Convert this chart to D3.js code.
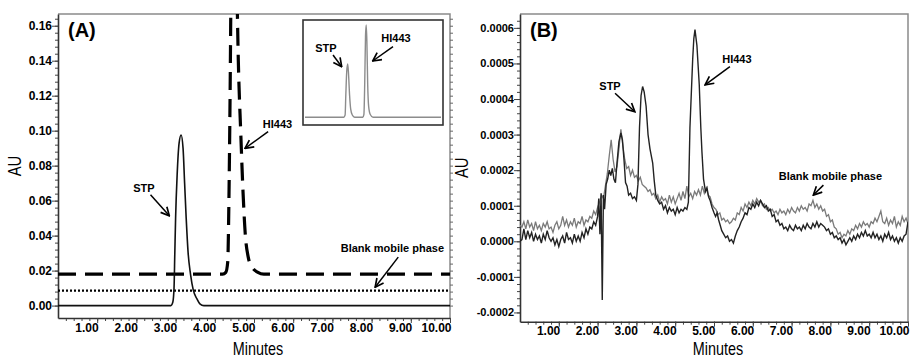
<!DOCTYPE html>
<html>
<head>
<meta charset="utf-8">
<script src="https://cdn.jsdelivr.net/npm/d3@7"></script>
<style>
  body { margin: 0; background: #fff; }
  svg { display: block; }
  text { font-family: 'Liberation Sans', Arial, sans-serif; }
  .lbl { font-weight: bold; }
</style>
</head>
<body>
<svg></svg>
<script>
// tick values
const xTicks = [1, 2, 3, 4, 5, 6, 7, 8, 9, 10];
const yTicksA = [0, 0.02, 0.04, 0.06, 0.08, 0.10, 0.12, 0.14, 0.16];
const yTicksB = [-2, -1, 0, 1, 2, 3, 4, 5, 6]; // AU x 1e-4

// panel A traces [minutes, AU]
const stpA = [[0,0],[2.88,0],[2.93,0.002],[2.96,0.01],[2.98,0.03],[3.0,0.05],[3.04,0.075],[3.09,0.093],[3.14,0.0975],
  [3.19,0.09],[3.23,0.07],[3.27,0.05],[3.32,0.03],[3.38,0.018],[3.45,0.009],[3.54,0.004],[3.62,0.001],[3.72,0],[10,0]];
const hi443A = [[0,0.018],[4.2,0.018],[4.28,0.019],[4.33,0.025],[4.36,0.06],[4.39,0.12],[4.42,0.2],[4.48,0.28],
  [4.55,0.2],[4.6,0.14],[4.66,0.1],[4.72,0.065],[4.78,0.04],[4.85,0.028],[4.95,0.022],[5.1,0.019],[5.25,0.018],[10,0.018]];
const blankA = [[0,0.0085],[10,0.0085]];

// inset (both peaks, no offset)
const insetTrace = [[0,0],[2.85,0],[2.95,0.004],[3.0,0.04],[3.07,0.085],[3.14,0.098],[3.2,0.08],[3.28,0.04],[3.36,0.015],
  [3.48,0.004],[3.65,0],[4.25,0],[4.33,0.005],[4.39,0.06],[4.45,0.15],[4.5,0.17],[4.55,0.14],[4.61,0.06],[4.68,0.02],
  [4.8,0.005],[5.0,0],[10,0]];

// panel B traces [minutes, AU x 1e-4]
const sampleB = [[0,0],[0.05,0.05],[0.1,0.35],[0.15,0.05],[0.2,0.3],[0.25,0.1],[0.3,0.25],[0.35,0],[0.4,0.2],[0.45,0.05],
  [0.5,0.15],[0.55,-0.05],[0.6,0.2],[0.65,0.05],[0.7,0.3],[0.75,0.1],[0.8,0],[0.85,0.1],[0.9,-0.1],[0.95,0.05],
  [1.0,-0.15],[1.05,0.05],[1.1,0.15],[1.15,-0.05],[1.2,0.25],[1.25,0.05],[1.3,0.1],[1.35,-0.05],[1.4,0.2],[1.45,0],
  [1.5,0.15],[1.55,0],[1.6,0.25],[1.65,0.1],[1.7,0.35],[1.75,0.2],[1.8,0.4],[1.85,0.35],[1.9,0.55],[1.95,0.45],
  [2.0,0.7],[2.03,1.2],[2.06,0.2],[2.09,1.35],[2.12,-1.65],[2.15,1.3],[2.18,0.9],[2.22,1.6],[2.26,1.75],[2.3,2.0],
  [2.34,1.85],[2.38,2.05],[2.42,1.75],[2.46,1.65],[2.5,2.2],[2.55,2.8],[2.6,3.05],[2.64,2.85],[2.68,2.3],[2.72,1.65],
  [2.76,1.55],[2.8,1.3],[2.85,1.35],[2.9,1.2],[2.95,1.25],[3.0,1.15],[3.04,1.6],[3.08,3.2],[3.12,4.1],[3.16,4.35],
  [3.2,4.2],[3.25,3.8],[3.3,3.0],[3.35,2.6],[3.42,2.2],[3.46,1.7],[3.5,1.3],[3.55,1.15],[3.6,1.05],[3.65,1.1],
  [3.7,0.9],[3.75,1.0],[3.8,0.8],[3.85,0.95],[3.9,0.85],[3.95,0.9],[4.0,0.75],[4.05,0.95],[4.1,0.8],[4.15,0.9],
  [4.2,0.85],[4.25,0.95],[4.3,0.9],[4.34,1.1],[4.38,3.2],[4.45,5.1],[4.48,5.7],[4.51,5.95],[4.56,5.5],[4.62,4.4],
  [4.66,3.2],[4.69,2.5],[4.73,1.75],[4.78,1.4],[4.82,1.5],[4.86,1.25],[4.9,1.15],[4.95,0.95],[5.0,0.8],[5.04,0.7],
  [5.08,0.8],[5.12,0.6],[5.16,0.45],[5.2,0.3],[5.25,0.2],[5.3,0.1],[5.35,0.15],[5.4,0],[5.45,0.05],[5.5,-0.05],
  [5.55,0.15],[5.6,0.3],[5.65,0.4],[5.7,0.55],[5.75,0.65],[5.8,0.8],[5.85,0.75],[5.9,0.95],[5.95,0.9],[6.0,1.05],
  [6.05,0.95],[6.1,1.1],[6.15,1.0],[6.2,1.15],[6.25,1.05],[6.3,0.95],[6.35,1.0],[6.4,0.85],[6.45,0.9],[6.5,0.7],
  [6.55,0.75],[6.6,0.55],[6.65,0.6],[6.7,0.45],[6.75,0.5],[6.8,0.35],[6.85,0.4],[6.9,0.3],[6.95,0.45],[7.0,0.35],
  [7.05,0.3],[7.1,0.45],[7.15,0.35],[7.2,0.4],[7.25,0.3],[7.3,0.45],[7.35,0.35],[7.4,0.5],[7.45,0.4],[7.5,0.35],
  [7.55,0.5],[7.6,0.4],[7.65,0.55],[7.7,0.4],[7.75,0.5],[7.8,0.45],[7.85,0.4],[7.9,0.3],[7.95,0.35],[8.0,0.2],
  [8.05,0.25],[8.1,0.1],[8.15,0.15],[8.2,0.05],[8.25,0.1],[8.3,-0.05],[8.35,0.05],[8.4,-0.1],[8.45,0],[8.5,0.1],
  [8.55,0],[8.6,0.15],[8.65,0.05],[8.7,0.2],[8.75,0.1],[8.8,0.25],[8.85,0.15],[8.9,0.3],[8.95,0.15],[9.0,0.2],
  [9.05,0.1],[9.1,0.25],[9.15,0.1],[9.2,0.2],[9.25,0.05],[9.3,0.15],[9.35,0],[9.4,0.2],[9.45,0.1],[9.5,0.25],
  [9.55,0.05],[9.6,0.15],[9.65,0],[9.7,0.1],[9.75,-0.05],[9.8,0.1],[9.85,0],[9.9,0.15],[9.95,0.2],[10.0,0.55]];

const blankB = [[0,0.45],[0.05,0.4],[0.1,0.55],[0.15,0.35],[0.2,0.6],[0.25,0.4],[0.3,0.5],[0.35,0.3],[0.4,0.55],[0.45,0.35],
  [0.5,0.45],[0.55,0.3],[0.6,0.5],[0.65,0.4],[0.7,0.55],[0.75,0.35],[0.8,0.4],[0.85,0.25],[0.9,0.45],[0.95,0.55],
  [1.0,0.35],[1.05,0.45],[1.1,0.7],[1.15,0.45],[1.2,0.6],[1.25,0.4],[1.3,0.55],[1.35,0.45],[1.4,0.65],[1.45,0.4],
  [1.5,0.55],[1.55,0.5],[1.6,0.7],[1.65,0.45],[1.7,0.6],[1.75,0.55],[1.8,0.7],[1.85,0.65],[1.9,0.85],[1.95,0.75],
  [2.0,0.95],[2.05,1.1],[2.1,1.3],[2.15,1.2],[2.2,1.55],[2.25,1.9],[2.3,2.4],[2.35,2.85],[2.4,2.3],[2.45,1.95],
  [2.5,2.1],[2.55,2.6],[2.6,3.15],[2.65,2.7],[2.7,2.3],[2.75,2.05],[2.8,2.1],[2.85,1.85],[2.9,2.0],[2.95,1.8],
  [3.0,1.85],[3.05,1.7],[3.1,1.8],[3.15,1.6],[3.2,1.55],[3.25,1.5],[3.3,1.4],[3.35,1.45],[3.4,1.3],[3.45,1.35],
  [3.5,1.2],[3.55,1.3],[3.6,1.1],[3.65,1.25],[3.7,1.15],[3.75,1.2],[3.8,1.05],[3.85,1.3],[3.9,1.1],[3.95,1.25],
  [4.0,1.05],[4.05,1.2],[4.1,1.35],[4.15,1.15],[4.2,1.4],[4.25,1.2],[4.3,1.55],[4.35,1.25],[4.4,1.35],[4.45,1.2],
  [4.5,1.4],[4.55,1.3],[4.6,1.45],[4.65,1.3],[4.7,1.55],[4.75,1.35],[4.8,1.5],[4.85,1.3],[4.9,1.25],[4.95,1.05],
  [5.0,0.95],[5.05,0.9],[5.1,0.75],[5.15,0.8],[5.2,0.6],[5.25,0.65],[5.3,0.55],[5.35,0.6],[5.4,0.5],[5.45,0.55],
  [5.5,0.65],[5.55,0.6],[5.6,0.8],[5.65,0.75],[5.7,0.95],[5.75,0.85],[5.8,1.05],[5.85,0.95],[5.9,1.1],[5.95,1.0],
  [6.0,1.15],[6.05,1.05],[6.1,1.2],[6.15,1.1],[6.2,1.15],[6.25,1.0],[6.3,1.05],[6.35,0.9],[6.4,0.95],[6.45,0.85],
  [6.5,0.9],[6.55,0.8],[6.6,0.85],[6.65,0.75],[6.7,0.9],[6.75,0.8],[6.8,0.85],[6.85,0.75],[6.9,0.9],[6.95,0.8],
  [7.0,0.95],[7.05,0.85],[7.1,0.8],[7.15,0.95],[7.2,0.85],[7.25,1.0],[7.3,0.9],[7.35,0.95],[7.4,0.85],[7.45,1.05],
  [7.5,1.0],[7.55,1.15],[7.6,0.95],[7.65,1.05],[7.7,0.9],[7.75,1.0],[7.8,0.85],[7.85,0.9],[7.9,0.7],[7.95,0.75],
  [8.0,0.55],[8.05,0.6],[8.1,0.4],[8.15,0.35],[8.2,0.2],[8.25,0.25],[8.3,0.1],[8.35,0.2],[8.4,0.15],[8.45,0.3],
  [8.5,0.2],[8.55,0.35],[8.6,0.3],[8.65,0.45],[8.7,0.35],[8.75,0.5],[8.8,0.4],[8.85,0.55],[8.9,0.45],[8.95,0.5],
  [9.0,0.4],[9.05,0.55],[9.1,0.5],[9.15,0.65],[9.2,0.55],[9.25,0.7],[9.3,0.85],[9.35,0.55],[9.4,0.5],[9.45,0.65],
  [9.5,0.45],[9.55,0.6],[9.6,0.5],[9.65,0.7],[9.7,0.4],[9.75,0.55],[9.8,0.45],[9.85,0.7],[9.9,0.55],[9.95,0.65],[10.0,0.5]];

// annotation text and arrows, in data units [t, v]
const notesA = [
  { text: 'HI443', at: [5.60, 0.1015], from: [5.36, 0.0994], to: [4.77, 0.0899] },
  { text: 'STP', at: [2.19, 0.0650], from: [2.36, 0.0633], to: [2.84, 0.0513] },
  { text: 'Blank mobile phase', at: [8.53, 0.0307], from: [8.68, 0.0277], to: [8.09, 0.0105] },
];
const notesInset = [
  { text: 'STP', at: [1.54, 0.120], from: [2.06, 0.1145], to: [2.70, 0.093] },
  { text: 'HI443', at: [6.69, 0.1385], from: [6.47, 0.130], to: [4.98, 0.1035] },
];
const notesB = [
  { text: 'STP', at: [2.32, 4.26], from: [2.45, 4.16], to: [2.96, 3.64] },
  { text: 'HI443', at: [5.59, 5.02], from: [5.41, 4.91], to: [4.77, 4.40] },
  { text: 'Blank mobile phase', at: [8.0, 1.72], from: [7.82, 1.58], to: [7.56, 1.30] },
];

const s = { width: 917, height: 358 };

const svg = d3.select('svg')
    .attr('width', s.width)
    .attr('height', s.height);

svg.append('defs')
  .append('marker')
    .attr('id', 'arrow')
    .attr('viewBox', '0 0 10 10')
    .attr('refX', 9)
    .attr('refY', 5)
    .attr('markerWidth', 7)
    .attr('markerHeight', 7)
    .attr('orient', 'auto')
  .append('path')
    .attr('d', 'M1,1 L9,5 L1,9')
    .attr('fill', 'none')
    .attr('stroke', '#000')
    .attr('stroke-width', 1.6);

function panel(id, box, yDomain, yTicks, yFmt, yMinorStep, yFont, auOffset) {
  const x = d3.scaleLinear().domain([0, 10]).range([box.left, box.right]);
  const y = d3.scaleLinear().domain(yDomain).range([box.bottom, box.top]);
  const g = svg.append('g').attr('id', id);

  g.append('clipPath')
      .attr('id', id + '-clip')
    .append('rect')
      .attr('x', box.left)
      .attr('y', box.top)
      .attr('width', box.right - box.left)
      .attr('height', box.bottom - box.top);

  // light frame on top and right
  g.append('path')
      .attr('d', `M${box.left},${box.top}H${box.right}V${box.bottom}`)
      .attr('fill', 'none')
      .attr('stroke', '#8a8a8a')
      .attr('stroke-width', 1.5);

  // minor x ticks
  g.append('g')
      .attr('transform', `translate(0,${box.bottom})`)
      .call(d3.axisBottom(x).tickValues(d3.range(0.2, 10.01, 0.2)).tickSize(3).tickSizeOuter(0).tickFormat(''))
      .call(a => a.select('.domain').remove());

  const xa = g.append('g')
      .attr('transform', `translate(0,${box.bottom})`)
      .call(d3.axisBottom(x).tickValues(xTicks).tickSize(5).tickSizeOuter(0).tickFormat(d3.format('.2f')));
  xa.selectAll('text')
      .attr('text-anchor', 'end')
      .attr('dx', 1)
      .attr('y', 5)
      .attr('font-size', 12)
      .attr('font-weight', 'bold')
      .attr('font-family', null);

  // minor y ticks
  g.append('g')
      .attr('transform', `translate(${box.left},0)`)
      .call(d3.axisLeft(y).tickValues(d3.range(yTicks[0], yDomain[1], yMinorStep)).tickSize(3).tickSizeOuter(0).tickFormat(''))
      .call(a => a.select('.domain').remove());

  const ya = g.append('g')
      .attr('transform', `translate(${box.left},0)`)
      .call(d3.axisLeft(y).tickValues(yTicks).tickSize(6).tickSizeOuter(0).tickFormat(yFmt));
  ya.selectAll('text')
      .attr('font-size', yFont)
      .attr('font-weight', 'bold')
      .attr('font-family', null)
      .attr('x', -6);

  g.selectAll('.domain')
      .attr('stroke', '#333')
      .attr('stroke-width', 1.6);
  g.selectAll('.tick line')
      .attr('stroke', '#444');

  // axis titles, squeezed to look condensed
  g.append('text')
      .attr('transform', `translate(${(box.left + box.right) / 2 + 4},355) scale(0.8,1)`)
      .attr('text-anchor', 'middle')
      .attr('font-size', 18)
      .text('Minutes');

  g.append('text')
      .attr('transform', `translate(${box.left - auOffset},${(box.top + box.bottom) / 2}) rotate(-90) scale(0.82,1)`)
      .attr('text-anchor', 'middle')
      .attr('font-size', 18)
      .text('AU');

  g.append('text')
      .attr('class', 'lbl')
      .attr('x', box.left + 10)
      .attr('y', box.top + 23)
      .attr('font-size', 20)
      .text('(' + id + ')');

  return { g, x, y, clip: `url(#${id}-clip)` };
}

function trace(p, data, curve, attrs) {
  const line = d3.line()
      .x(d => p.x(d[0]))
      .y(d => p.y(d[1]))
      .curve(curve);
  const path = p.g.append('path')
      .datum(data)
      .attr('clip-path', p.clip)
      .attr('fill', 'none')
      .attr('d', line);
  Object.entries(attrs).forEach(([k, v]) => path.attr(k, v));
  return path;
}

function notes(g, x, y, list, size) {
  list.forEach(n => {
    g.append('text')
        .attr('class', 'lbl')
        .attr('x', x(n.at[0]))
        .attr('y', y(n.at[1]))
        .attr('text-anchor', 'middle')
        .attr('font-size', size)
        .text(n.text);
    g.append('line')
        .attr('x1', x(n.from[0]))
        .attr('y1', y(n.from[1]))
        .attr('x2', x(n.to[0]))
        .attr('y2', y(n.to[1]))
        .attr('stroke', '#000')
        .attr('stroke-width', 1.5)
        .attr('marker-end', 'url(#arrow)');
  });
}

// ---- panel A
const A = panel('A', { left: 58, right: 450, top: 14, bottom: 318 },
    [-0.0071, 0.1667], yTicksA, d3.format('.2f'), 0.004, 12, 37);

trace(A, blankA, d3.curveLinear, { stroke: '#000', 'stroke-width': 2.2, 'stroke-dasharray': '2,2' });
trace(A, hi443A, d3.curveMonotoneX, { stroke: '#000', 'stroke-width': 3.2, 'stroke-dasharray': '18,9' });
trace(A, stpA, d3.curveMonotoneX, { stroke: '#111', 'stroke-width': 1.6 });
notes(A.g, A.x, A.y, notesA, 11);

// right edge ticks of A
A.g.append('g')
    .attr('transform', 'translate(450,0)')
    .call(d3.axisRight(A.y).tickValues(d3.range(0, 0.1667, 0.004)).tickSize(3).tickSizeOuter(0).tickFormat(''))
    .call(a => a.select('.domain').remove())
    .selectAll('line').attr('stroke', '#666');

// inset
const inBox = { left: 303, right: 443, top: 20, bottom: 125 };
const ix = d3.scaleLinear().domain([0, 10]).range([inBox.left + 2, inBox.right - 2]);
const iy = d3.scaleLinear().domain([-0.0125, 0.179]).range([inBox.bottom - 1, inBox.top]);
A.g.append('rect')
    .attr('x', inBox.left)
    .attr('y', inBox.top)
    .attr('width', inBox.right - inBox.left)
    .attr('height', inBox.bottom - inBox.top)
    .attr('fill', '#fff')
    .attr('stroke', '#333')
    .attr('stroke-width', 1.6);
A.g.append('path')
    .datum(insetTrace)
    .attr('fill', 'none')
    .attr('stroke', '#8c8c8c')
    .attr('stroke-width', 1.4)
    .attr('d', d3.line().x(d => ix(d[0])).y(d => iy(d[1])).curve(d3.curveMonotoneX));
notes(A.g, ix, iy, notesInset, 11);

// ---- panel B
const B = panel('B', { left: 520, right: 908, top: 14, bottom: 321.7 },
    [-2.26, 6.39], yTicksB, d => (d / 1e4).toFixed(4), 0.2, 11, 52);

trace(B, blankB, d3.curveLinear, { stroke: '#7a7a7a', 'stroke-width': 1.3 });
trace(B, sampleB, d3.curveLinear, { stroke: '#222', 'stroke-width': 1.4 });
notes(B.g, B.x, B.y, notesB, 11);
</script>
</body>
</html>
